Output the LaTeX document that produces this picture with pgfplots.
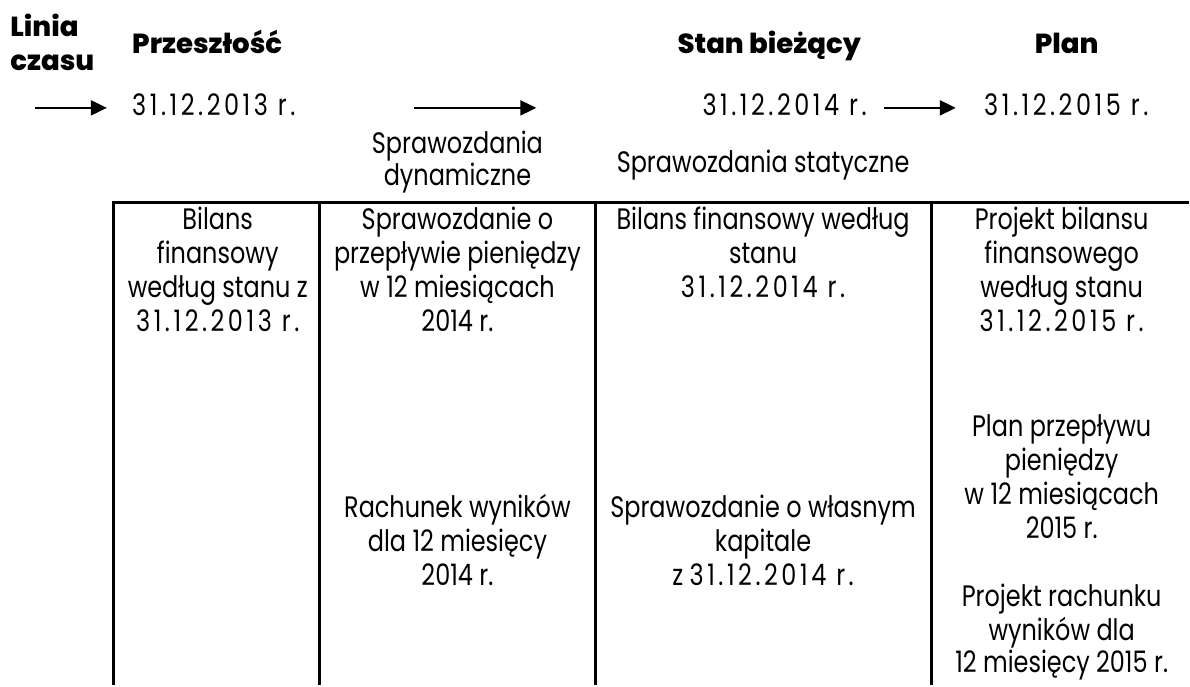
\documentclass[border=0pt]{standalone}
\usepackage{pgfplots}
\pgfplotsset{compat=1.18}
\usetikzlibrary{arrows.meta}
\usepackage{fontspec}
\setmainfont{Poppins}
\newfontfamily\bodyfont{Poppins}[FakeStretch=0.81]
\newfontfamily\datefont{Poppins}[FakeStretch=0.81,LetterSpace=12]
\newfontfamily\headfont{Poppins ExtraBold}
\newcommand{\body}{\bodyfont\fontsize{14.8}{16}\selectfont}
\newcommand{\head}{\headfont\fontsize{13.8}{16}\selectfont}
\newcommand{\dt}[1]{{\datefont #1}}
\newcommand{\tl}[3]{\node[anchor=base,inner sep=0pt,font=\body] at (axis cs:#1,#2) {#3};}
\begin{document}
\begin{tikzpicture}
\begin{axis}[
  hide axis, scale only axis, width=595pt, height=343pt,
  xmin=0, xmax=1190, ymin=0, ymax=686, y dir=reverse, clip=false]
\addplot[draw=none] coordinates {(0,0) (1190,686)};
% table lines
\addplot[black, line width=1.5pt] coordinates {(114,686) (114,203) (1190,203)};
\addplot[black, line width=1.5pt] coordinates {(320,203) (320,686)};
\addplot[black, line width=1.5pt] coordinates {(596,203) (596,686)};
\addplot[black, line width=1.5pt] coordinates {(933,203) (933,686)};
% arrows
\addplot[black, line width=1pt, -{Triangle[length=8pt,width=7.5pt]}] coordinates {(35,108) (107,108)};
\addplot[black, line width=1pt, -{Triangle[length=8pt,width=7.5pt]}] coordinates {(415,108) (537,108)};
\addplot[black, line width=1pt, -{Triangle[length=8pt,width=7.5pt]}] coordinates {(885,108) (957,108)};
% headers
\node[anchor=base west,inner sep=0pt,font=\head] at (axis cs:10,37) {Linia};
\node[anchor=base west,inner sep=0pt,font=\head] at (axis cs:10,71) {czasu};
\node[anchor=base west,inner sep=0pt,font=\head] at (axis cs:132,54) {Przeszłość};
\node[anchor=base west,inner sep=0pt,font=\head] at (axis cs:678,54) {Stan bieżący};
\node[anchor=base,inner sep=0pt,font=\head] at (axis cs:1068,54) {Plan};
% dates
\node[anchor=base west,inner sep=0pt,font=\body] at (axis cs:132,116) {\dt{31.12.2013 r.}};
\node[anchor=base west,inner sep=0pt,font=\body] at (axis cs:703,116) {\dt{31.12.2014 r.}};
\node[anchor=base west,inner sep=0pt,font=\body] at (axis cs:985,116) {\dt{31.12.2015 r.}};
\tl{458}{154}{Sprawozdania}
\tl{458}{186}{dynamiczne}
\tl{764}{173}{Sprawozdania statyczne}
% column 1
\tl{218}{230}{Bilans}
\tl{218}{264}{finansowy}
\tl{218}{298}{według stanu z}
\tl{218}{332}{\dt{31.12.2013 r.}}
% column 2
\tl{458}{230}{Sprawozdanie o}
\tl{458}{264}{przepływie pieniędzy}
\tl{458}{298}{w 12 miesiącach}
\tl{458}{332}{2014 r.}
\tl{458}{518}{Rachunek wyników}
\tl{458}{552}{dla 12 miesięcy}
\tl{458}{586}{2014 r.}
% column 3
\tl{764}{230}{Bilans finansowy według}
\tl{764}{264}{stanu}
\tl{764}{298}{\dt{31.12.2014 r.}}
\tl{764}{518}{Sprawozdanie o własnym}
\tl{764}{552}{kapitale}
\tl{764}{586}{z \dt{31.12.2014 r.}}
% column 4
\tl{1063}{230}{Projekt bilansu}
\tl{1063}{264}{finansowego}
\tl{1063}{298}{według stanu}
\tl{1063}{332}{\dt{31.12.2015 r.}}
\tl{1063}{437}{Plan przepływu}
\tl{1063}{471}{pieniędzy}
\tl{1063}{505}{w 12 miesiącach}
\tl{1063}{539}{2015 r.}
\tl{1063}{607}{Projekt rachunku}
\tl{1063}{641}{wyników dla}
\tl{1063}{673}{12 miesięcy 2015 r.}
\end{axis}
\end{tikzpicture}
\end{document}
